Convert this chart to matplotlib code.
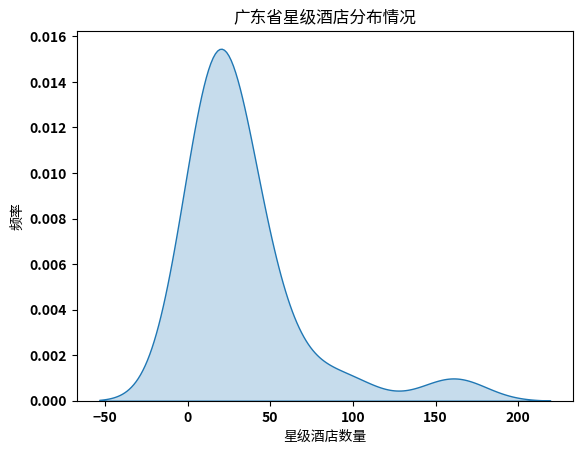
import numpy as np
import matplotlib
matplotlib.use("Agg")
import matplotlib.pyplot as plt
import seaborn as sns

plt.rcParams['font.family'] = ['Noto Sans CJK SC', 'DejaVu Sans']
plt.rcParams['axes.unicode_minus'] = False

# 广东省各市星级酒店数量（从图中估计）
hotel_counts = [5, 8, 10, 12, 13, 14, 16, 17, 18, 20, 21,
                23, 25, 27, 30, 34, 40, 48, 60, 94, 161]

fig, ax = plt.subplots(figsize=(6.4, 4.8))
sns.kdeplot(x=hotel_counts, fill=True, ax=ax)
ax.set_title("广东省星级酒店分布情况")
ax.set_xlabel("星级酒店数量")
ax.set_ylabel("频率")
for lbl in ax.get_xticklabels() + ax.get_yticklabels():
    lbl.set_fontweight('bold')
ax.set_xticks([-50, 0, 50, 100, 150, 200])
ax.set_xticklabels(["−50", "0", "50", "100", "150", "200"], fontweight='bold')
plt.savefig("out.png", dpi=100, bbox_inches='tight')
